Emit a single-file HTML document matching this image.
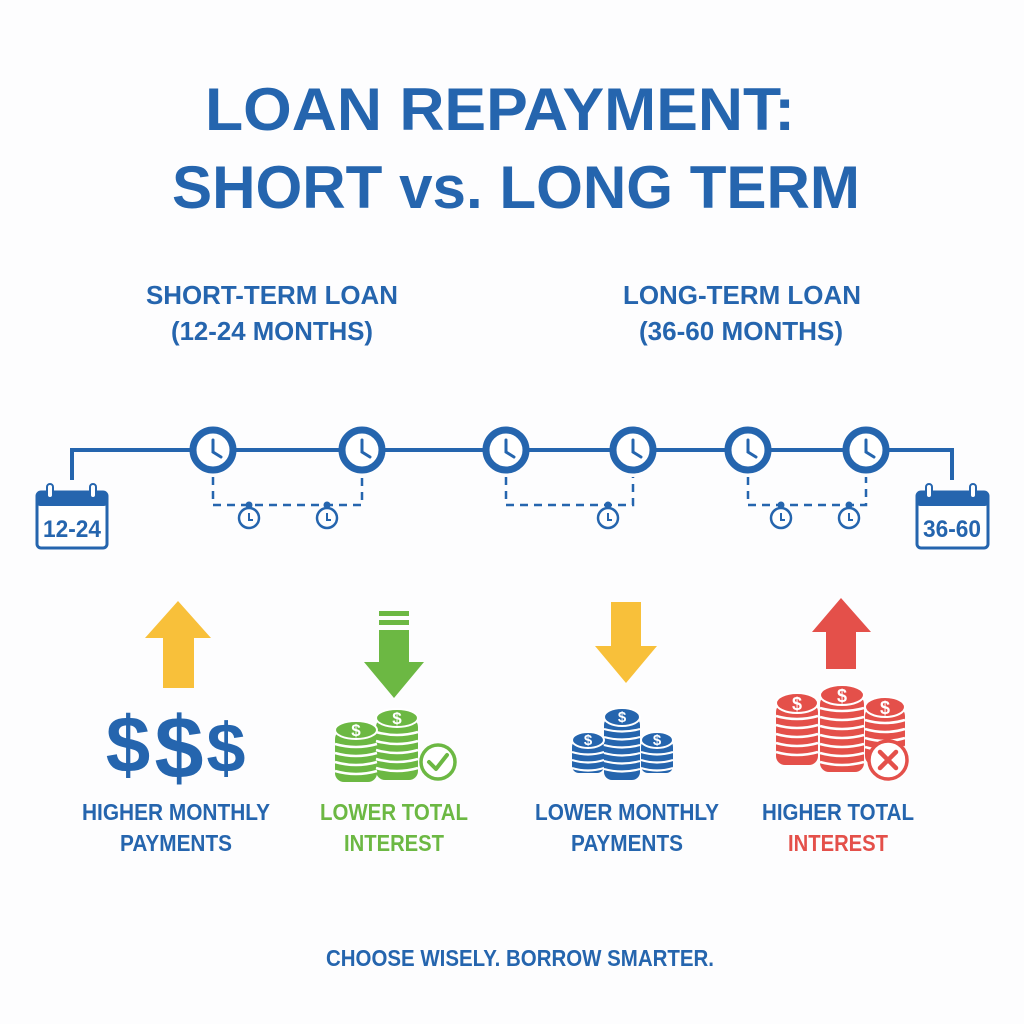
<!DOCTYPE html>
<html><head><meta charset="utf-8"><style>
html,body{margin:0;padding:0;background:#fff;}
svg{display:block;}
text{font-family:"Liberation Sans",sans-serif;font-weight:bold;}
</style></head><body>
<svg width="1024" height="1024" viewBox="0 0 1024 1024" xmlns="http://www.w3.org/2000/svg">
<rect width="1024" height="1024" fill="#fdfdfe"/>
<g fill="#2565ae" text-anchor="middle">
<text x="500" y="130" font-size="60" textLength="590" lengthAdjust="spacingAndGlyphs">LOAN REPAYMENT:</text>
<text x="516" y="208" font-size="60" textLength="688" lengthAdjust="spacingAndGlyphs">SHORT vs. LONG TERM</text>
<text x="272" y="304" font-size="26" textLength="252" lengthAdjust="spacingAndGlyphs">SHORT-TERM LOAN</text>
<text x="272" y="340" font-size="26" textLength="202" lengthAdjust="spacingAndGlyphs">(12-24 MONTHS)</text>
<text x="742" y="304" font-size="26" textLength="238" lengthAdjust="spacingAndGlyphs">LONG-TERM LOAN</text>
<text x="741" y="340" font-size="26" textLength="204" lengthAdjust="spacingAndGlyphs">(36-60 MONTHS)</text>
</g>
<!-- timeline -->
<g stroke="#2565ae" fill="none">
<path d="M72,480 V450 H952 V480" stroke-width="4"/>
<g stroke-width="2.5" stroke-dasharray="8,6">
<path d="M213,477 V505 H362 V477"/>
<path d="M506,477 V505 H633 V477"/>
<path d="M748,477 V505 H866 V477"/>
</g>
</g>
<g fill="#fff" stroke="#2565ae" stroke-width="7">
<circle cx="213" cy="450" r="20"/><circle cx="362" cy="450" r="20"/>
<circle cx="506" cy="450" r="20"/><circle cx="633" cy="450" r="20"/>
<circle cx="748" cy="450" r="20"/><circle cx="866" cy="450" r="20"/>
</g>
<g fill="none" stroke="#2565ae" stroke-width="3" stroke-linecap="round">
<path d="M213,440 V452 L221,457"/><path d="M362,440 V452 L370,457"/>
<path d="M506,440 V452 L514,457"/><path d="M633,440 V452 L641,457"/>
<path d="M748,440 V452 L756,457"/><path d="M866,440 V452 L874,457"/>
</g>
<!-- stopwatches -->
<g fill="#fff" stroke="#2565ae" stroke-width="2.5">
<circle cx="249" cy="518" r="10"/><circle cx="327" cy="518" r="10"/>
<circle cx="608" cy="518" r="10"/>
<circle cx="781" cy="518" r="10"/><circle cx="849" cy="518" r="10"/>
</g>
<g fill="#2565ae">
<circle cx="249" cy="505" r="3.5"/><circle cx="327" cy="505" r="3.5"/>
<circle cx="608" cy="505" r="3.5"/><circle cx="781" cy="505" r="3.5"/><circle cx="849" cy="505" r="3.5"/>
</g>
<g fill="none" stroke="#2565ae" stroke-width="2">
<path d="M249,513 V520 H253"/><path d="M327,513 V520 H331"/><path d="M608,513 V520 H612"/>
<path d="M781,513 V520 H785"/><path d="M849,513 V520 H853"/>
</g>
<!-- calendars -->
<g>
<rect x="37" y="492" width="70" height="56" rx="4" fill="#fff" stroke="#2565ae" stroke-width="3"/>
<rect x="37" y="492" width="70" height="14" rx="3" fill="#2565ae"/>
<rect x="47" y="484" width="6" height="14" rx="3" fill="#fff" stroke="#2565ae" stroke-width="2"/>
<rect x="90" y="484" width="6" height="14" rx="3" fill="#fff" stroke="#2565ae" stroke-width="2"/>
<text x="72" y="537" font-size="24" fill="#2565ae" text-anchor="middle" textLength="58" lengthAdjust="spacingAndGlyphs">12-24</text>
<rect x="917" y="492" width="71" height="56" rx="4" fill="#fff" stroke="#2565ae" stroke-width="3"/>
<rect x="917" y="492" width="71" height="14" rx="3" fill="#2565ae"/>
<rect x="926" y="484" width="6" height="14" rx="3" fill="#fff" stroke="#2565ae" stroke-width="2"/>
<rect x="970" y="484" width="6" height="14" rx="3" fill="#fff" stroke="#2565ae" stroke-width="2"/>
<text x="952" y="537" font-size="24" fill="#2565ae" text-anchor="middle" textLength="58" lengthAdjust="spacingAndGlyphs">36-60</text>
</g>
<!-- arrows -->
<polygon points="178,601 211,638 194,638 194,688 163,688 163,638 145,638" fill="#f8c03a"/>
<g fill="#6cb843">
<rect x="379" y="611" width="30" height="5"/><rect x="379" y="620" width="30" height="5"/>
<polygon points="379,630 409,630 409,662 424,662 394,698 364,662 379,662"/>
</g>
<polygon points="611,602 641,602 641,646 657,646 626,683 595,646 611,646" fill="#f8c03a"/>
<polygon points="841,598 871,632 856,632 856,669 826,669 826,632 812,632" fill="#e4504a"/>
<!-- dollar signs -->
<g fill="#2565ae" text-anchor="middle">
<text x="128" y="772" font-size="80">$</text>
<text x="179" y="778" font-size="88">$</text>
<text x="226" y="772" font-size="70">$</text>
</g>
<!-- green coins -->
<g fill="#6cb843">
<rect x="335" y="730" width="42" height="52" rx="9"/>
<rect x="376" y="718" width="42" height="62" rx="9"/>
</g>
<g fill="none" stroke="#fff" stroke-width="2.5">
<path d="M335,744 Q356,750 377,744 M335,753 Q356,759 377,753 M335,762 Q356,768 377,762 M335,771 Q356,777 377,771"/>
<path d="M376,732 Q397,738 418,732 M376,741 Q397,747 418,741 M376,750 Q397,756 418,750 M376,759 Q397,765 418,759 M376,768 Q397,774 418,768"/>
</g>
<ellipse cx="356" cy="730" rx="21" ry="9" fill="#6cb843" stroke="#fff" stroke-width="2"/>
<ellipse cx="397" cy="718" rx="21" ry="9" fill="#6cb843" stroke="#fff" stroke-width="2"/>
<g fill="#fff" text-anchor="middle" font-size="17"><text x="356" y="736">$</text><text x="397" y="724">$</text></g>
<circle cx="438" cy="762" r="17" fill="#fff" stroke="#6cb843" stroke-width="3.5"/>
<path d="M429,762 L436,769 L447,755" fill="none" stroke="#6cb843" stroke-width="4" stroke-linecap="round" stroke-linejoin="round"/>
<!-- blue coins -->
<g fill="#2565ae">
<rect x="572" y="740" width="32" height="33" rx="7"/>
<rect x="641" y="740" width="32" height="33" rx="7"/>
<rect x="604" y="717" width="36" height="63" rx="8"/>
</g>
<g fill="none" stroke="#fff" stroke-width="2.2">
<path d="M572,752 Q588,757 604,752 M572,760 Q588,765 604,760 M572,768 Q588,773 604,768"/>
<path d="M641,752 Q657,757 673,752 M641,760 Q657,765 673,760 M641,768 Q657,773 673,768"/>
<path d="M604,729 Q622,734 640,729 M604,737 Q622,742 640,737 M604,745 Q622,750 640,745 M604,753 Q622,758 640,753 M604,761 Q622,766 640,761 M604,769 Q622,774 640,769"/>
</g>
<ellipse cx="588" cy="740" rx="16" ry="8" fill="#2565ae" stroke="#fff" stroke-width="2"/>
<ellipse cx="657" cy="740" rx="16" ry="8" fill="#2565ae" stroke="#fff" stroke-width="2"/>
<ellipse cx="622" cy="717" rx="18" ry="9" fill="#2565ae" stroke="#fff" stroke-width="2"/>
<g fill="#fff" text-anchor="middle" font-size="15"><text x="588" y="745">$</text><text x="657" y="745">$</text><text x="622" y="722">$</text></g>
<!-- red coins -->
<g fill="#e4504a">
<rect x="776" y="703" width="42" height="62" rx="9"/>
<rect x="865" y="707" width="40" height="58" rx="9"/>
<rect x="820" y="695" width="44" height="77" rx="9"/>
</g>
<g fill="none" stroke="#fff" stroke-width="2.5">
<path d="M776,716 Q797,722 818,716 M776,725 Q797,731 818,725 M776,734 Q797,740 818,734 M776,743 Q797,749 818,743 M776,752 Q797,758 818,752"/>
<path d="M865,720 Q885,726 905,720 M865,729 Q885,735 905,729 M865,738 Q885,744 905,738 M865,747 Q885,753 905,747"/>
<path d="M820,708 Q842,714 864,708 M820,717 Q842,723 864,717 M820,726 Q842,732 864,726 M820,735 Q842,741 864,735 M820,744 Q842,750 864,744 M820,753 Q842,759 864,753 M820,762 Q842,768 864,762"/>
</g>
<ellipse cx="797" cy="703" rx="21" ry="10" fill="#e4504a" stroke="#fff" stroke-width="2"/>
<ellipse cx="885" cy="707" rx="20" ry="10" fill="#e4504a" stroke="#fff" stroke-width="2"/>
<ellipse cx="842" cy="695" rx="22" ry="10" fill="#e4504a" stroke="#fff" stroke-width="2"/>
<g fill="#fff" text-anchor="middle" font-size="18"><text x="797" y="710">$</text><text x="885" y="714">$</text><text x="842" y="702">$</text></g>
<circle cx="888" cy="760" r="19" fill="#fff" stroke="#e4504a" stroke-width="3.5"/>
<path d="M880,752 L896,768 M896,752 L880,768" stroke="#e4504a" stroke-width="4.5" stroke-linecap="round"/>
<!-- labels -->
<g text-anchor="middle" font-size="23">
<text x="176" y="820" fill="#2565ae" textLength="188" lengthAdjust="spacingAndGlyphs">HIGHER MONTHLY</text>
<text x="176" y="851" fill="#2565ae" textLength="112" lengthAdjust="spacingAndGlyphs">PAYMENTS</text>
<text x="394" y="820" fill="#6cb843" textLength="148" lengthAdjust="spacingAndGlyphs">LOWER TOTAL</text>
<text x="394" y="851" fill="#6cb843" textLength="100" lengthAdjust="spacingAndGlyphs">INTEREST</text>
<text x="627" y="820" fill="#2565ae" textLength="184" lengthAdjust="spacingAndGlyphs">LOWER MONTHLY</text>
<text x="627" y="851" fill="#2565ae" textLength="112" lengthAdjust="spacingAndGlyphs">PAYMENTS</text>
<text x="838" y="820" fill="#2565ae" textLength="152" lengthAdjust="spacingAndGlyphs">HIGHER TOTAL</text>
<text x="838" y="851" fill="#e4504a" textLength="100" lengthAdjust="spacingAndGlyphs">INTEREST</text>
<text x="520" y="966" fill="#2565ae" textLength="388" lengthAdjust="spacingAndGlyphs">CHOOSE WISELY. BORROW SMARTER.</text>
</g>
</svg>
</body></html>
